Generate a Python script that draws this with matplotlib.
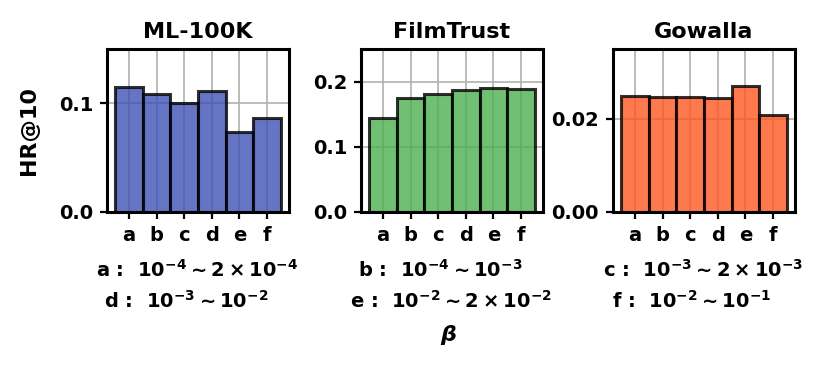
import matplotlib
matplotlib.use("Agg")
import matplotlib.pyplot as plt
import numpy as np

plt.rcParams["font.family"] = ["DejaVu Sans"]
plt.rcParams["font.weight"] = "bold"
plt.rcParams["mathtext.fontset"] = "dejavusans"
plt.rcParams["mathtext.default"] = "bf"

# data
labels = ["a", "b", "c", "d", "e", "f"]
datasets = ["ML-100K", "FilmTrust", "Gowalla"]
ml100k = [0.1154, 0.1087, 0.1000, 0.1110, 0.0736, 0.0868]
filmtrust = [0.1435, 0.1755, 0.1816, 0.1872, 0.1903, 0.1887]
gowalla = [0.02496, 0.02475, 0.02466, 0.02453, 0.02697, 0.02093]
ylims = [0.15, 0.25, 0.035]
yticks = [[0.0, 0.1], [0.0, 0.1, 0.2], [0.0, 0.02]]
ytick_labels = [["0.0", "0.1"], ["0.0", "0.1", "0.2"], ["0.00", "0.02"]]
colors = ["#3F51B5", "#4CAF50", "#FF5722"]
ranges = [
    (r"a :  $10^{-4} \sim 2\times10^{-4}$", r"d :  $10^{-3} \sim 10^{-2}$"),
    (r"b :  $10^{-4} \sim 10^{-3}$", r"e :  $10^{-2} \sim 2\times10^{-2}$"),
    (r"c :  $10^{-3} \sim 2\times10^{-3}$", r"f :  $10^{-2} \sim 10^{-1}$"),
]

W, H = 823, 365
fig = plt.figure(figsize=(W / 100, H / 100), dpi=100)

lefts = [107, 361, 613]
line1_x = [197, 440, 703]
line2_x = [186, 451, 692]
values = [ml100k, filmtrust, gowalla]

for i, (name, vals) in enumerate(zip(datasets, values)):
    ax = fig.add_axes([lefts[i] / W, 1 - 212 / H, 182 / W, 163 / H])
    x = np.arange(len(labels))
    ax.bar(x, vals, width=1.0, color=colors[i], alpha=0.8,
           edgecolor="black", linewidth=2.2, zorder=2)
    ax.set_axisbelow(True)
    ax.grid(True, color="#b0b0b0", linewidth=1.2, zorder=0)
    ax.set_xticks(x)
    ax.set_xticklabels(labels, fontsize=14, fontweight="bold")
    ax.set_ylim(0, ylims[i])
    ax.set_yticks(yticks[i])
    ax.set_yticklabels(ytick_labels[i], fontsize=14, fontweight="bold")
    ax.tick_params(width=1.6, length=5, pad=5)
    for s in ax.spines.values():
        s.set_linewidth(2.2)
    ax.set_title(name, fontsize=16, fontweight="bold", pad=8)
    if i == 0:
        ax.set_ylabel("HR@10", fontsize=16, fontweight="bold", labelpad=14)

    fig.text(line1_x[i] / W, 1 - 277 / H, ranges[i][0], ha="center", va="baseline",
             fontsize=14, fontweight="bold")
    fig.text(line2_x[i] / W, 1 - 308 / H, ranges[i][1], ha="center", va="baseline",
             fontsize=14, fontweight="bold")

fig.text(448 / W, 1 - 335 / H, r"$\mathbfit{\beta}$", ha="center", va="center",
         fontsize=16)

fig.savefig("out.png", dpi=100)
